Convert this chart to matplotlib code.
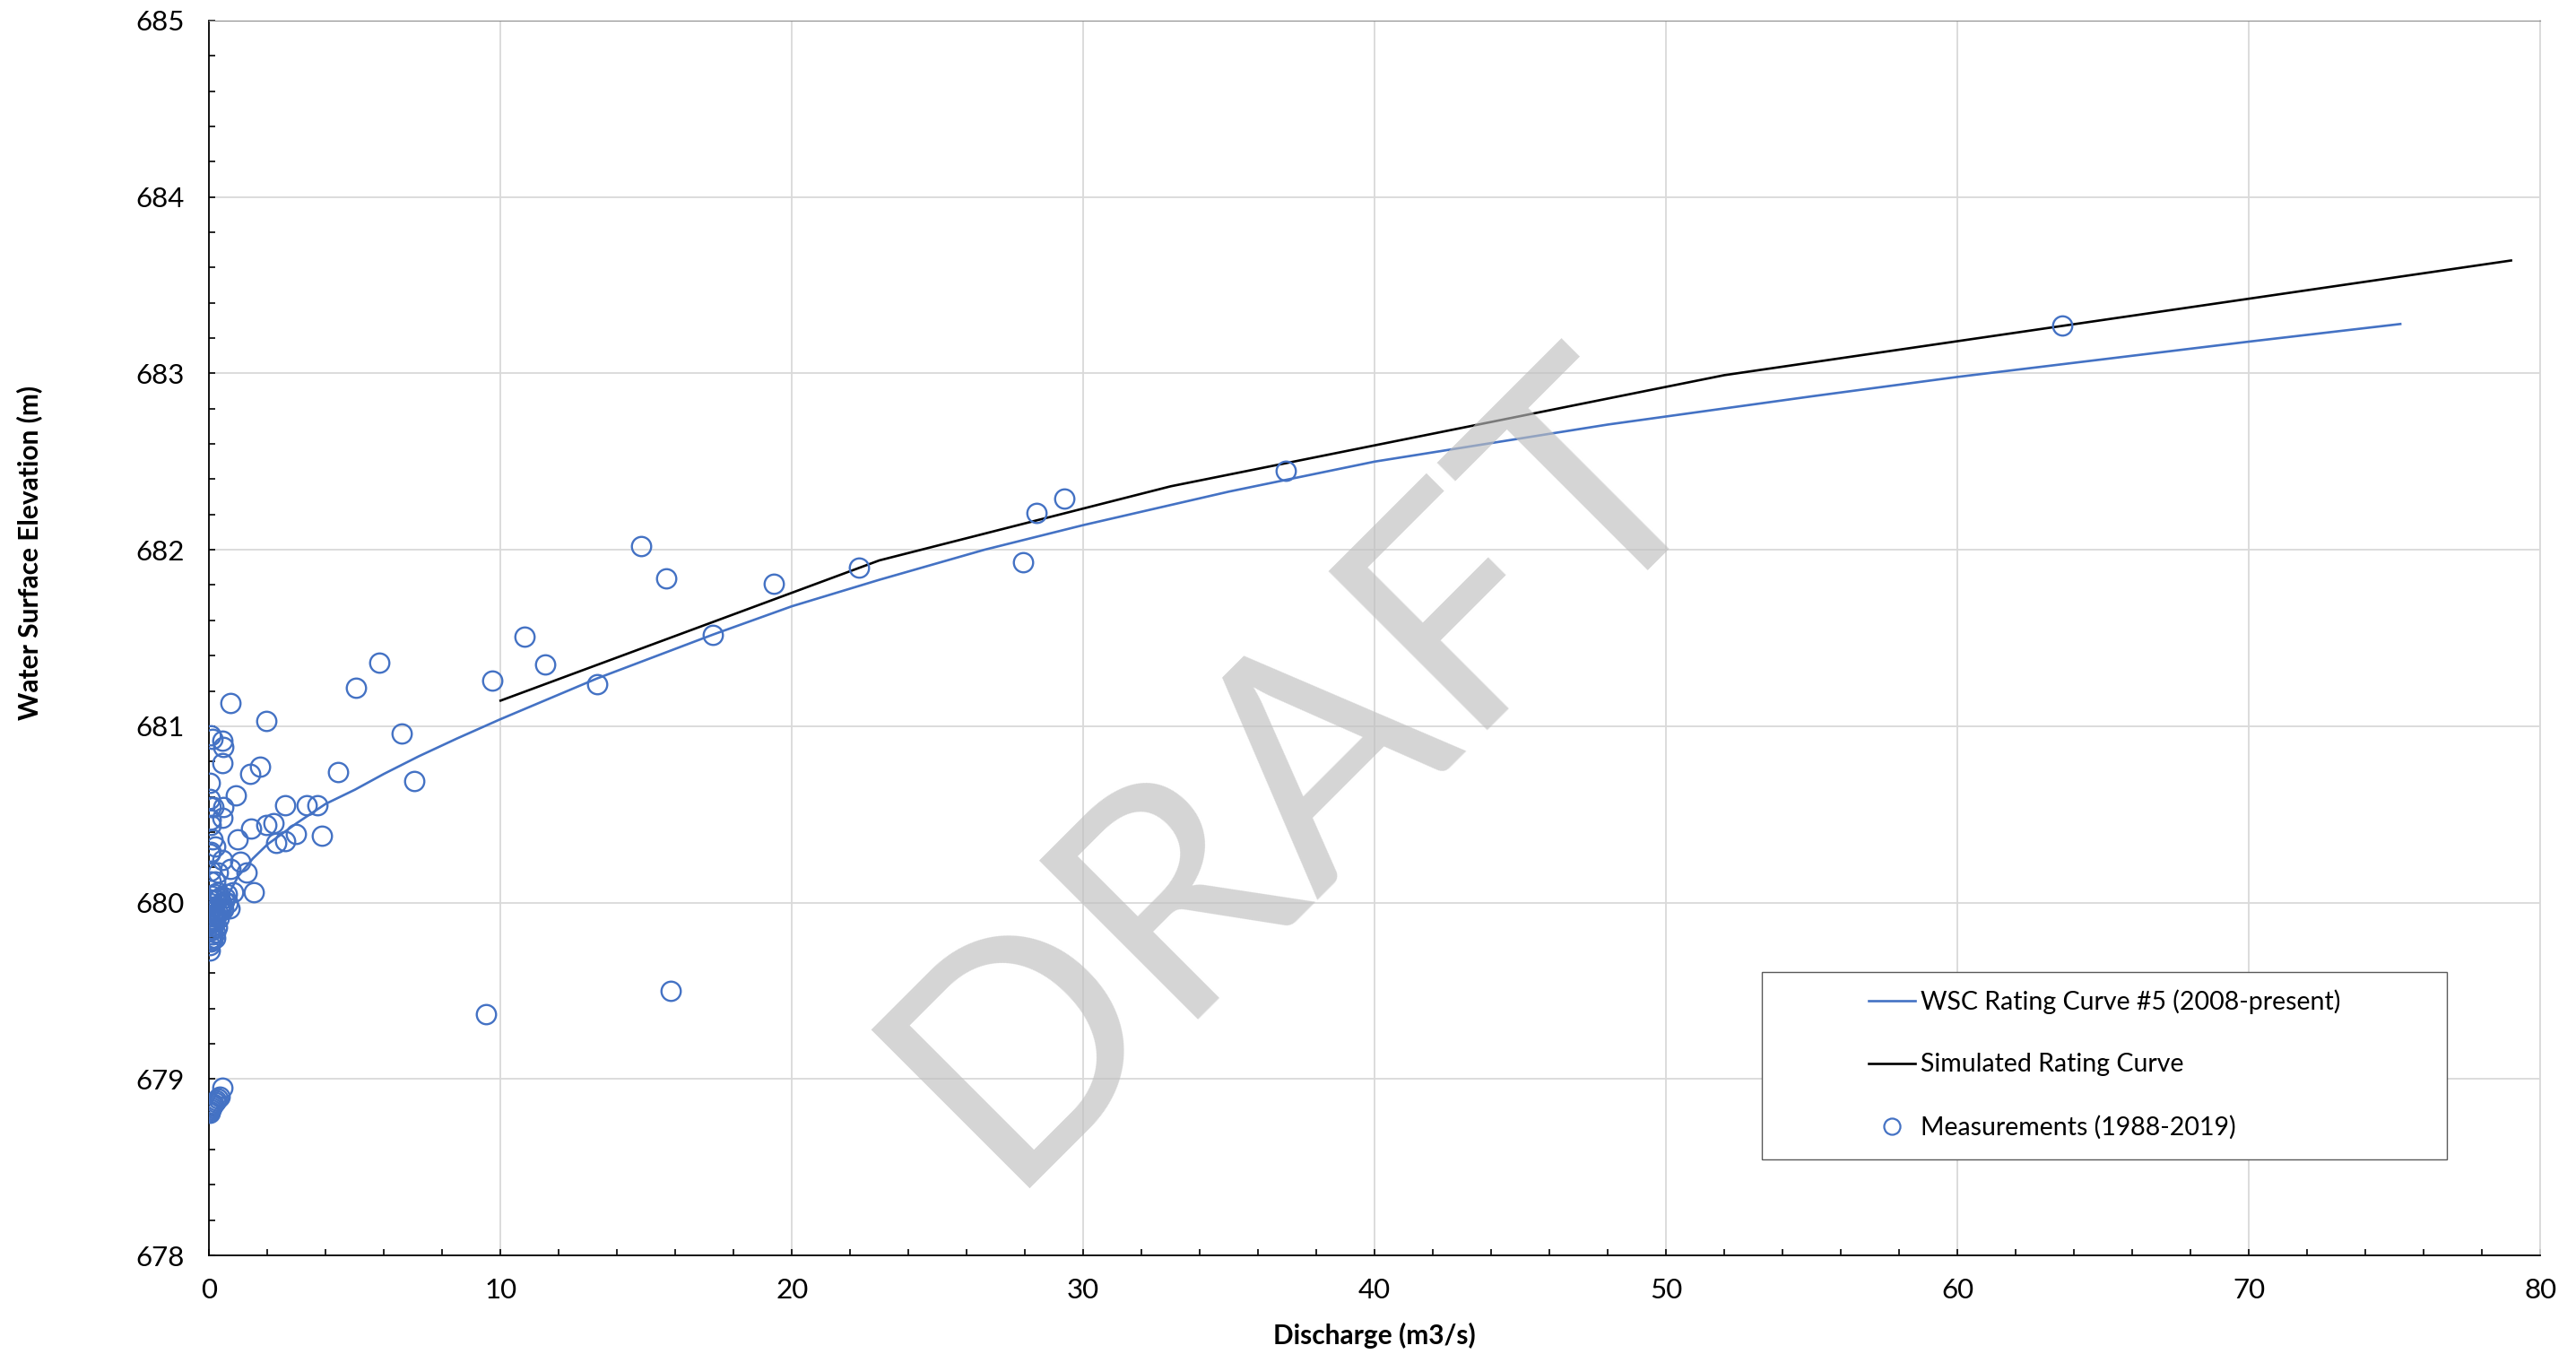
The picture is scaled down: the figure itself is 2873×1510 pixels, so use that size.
import numpy as np
import matplotlib
matplotlib.use("Agg")
import matplotlib.pyplot as plt
from matplotlib.lines import Line2D
from matplotlib.patches import Rectangle
from matplotlib.ticker import MultipleLocator

plt.rcParams['font.family'] = ['Lato', 'DejaVu Sans']

# --- WSC rating curve #5 ---
wsc_q = [0.45, 0.7, 1.0, 1.5, 2.0, 3.0, 4.0, 5.0, 6.0, 7.2, 8.5, 10.0, 13.3,
         17.3, 20.0, 23.0, 26.6, 30.0, 35.0, 40.0, 48.0, 55.0, 60.0, 65.0,
         70.0, 75.2]
wsc_h = [679.98, 680.06, 680.15, 680.25, 680.33, 680.45, 680.56, 680.64,
         680.73, 680.83, 680.93, 681.04, 681.27, 681.52, 681.68, 681.83,
         682.00, 682.14, 682.33, 682.50, 682.71, 682.87, 682.98, 683.08,
         683.18, 683.28]

# --- simulated rating curve ---
sim_q = [10.0, 23.0, 33.0, 52.0, 79.0]
sim_h = [681.145, 681.94, 682.36, 682.99, 683.64]

# --- measurements (1988-2019) ---
meas_q = [0.72, 1.97, 0.05, 0.10, 0.46, 0.49, 0.46, 1.42, 1.74, 4.41, 6.60,
          7.03, 0.03, 0.92, 0.03, 0.05, 0.15, 0.49, 0.46, 0.05, 0.05, 2.60,
          3.36, 3.72, 1.44, 1.97, 2.20, 0.10, 0.97, 0.21, 0.05, 0.02, 2.31,
          2.62, 2.97, 3.88, 0.46, 1.08, 0.05, 0.72, 1.28, 0.31, 0.05, 0.20,
          0.82, 1.54, 5.04, 5.85, 9.72, 9.49, 10.81, 11.52, 13.30, 14.81,
          15.70, 15.85, 17.27, 19.39, 22.29, 27.93, 28.39, 29.34, 36.96,
          63.60,
          # dense low-flow cluster
          0.02, 0.03, 0.05, 0.08, 0.10, 0.04, 0.12, 0.15, 0.06, 0.18, 0.20,
          0.10, 0.25, 0.30, 0.05, 0.35, 0.40, 0.15, 0.45, 0.02, 0.50, 0.25,
          0.55, 0.08, 0.60, 0.30, 0.12, 0.22, 0.28, 0.32, 0.38, 0.42, 0.07,
          0.01, 0.18, 0.03, 0.48, 0.35, 0.20, 0.14, 0.70, 0.65,
          # lowest group
          0.02, 0.03, 0.05, 0.08, 0.10, 0.15, 0.20, 0.25, 0.30, 0.35, 0.44]
meas_h = [681.13, 681.03, 680.95, 680.93, 680.92, 680.88, 680.79, 680.73,
          680.77, 680.74, 680.96, 680.69, 680.68, 680.61, 680.59, 680.54,
          680.54, 680.54, 680.48, 680.47, 680.44, 680.55, 680.55, 680.55,
          680.42, 680.44, 680.45, 680.36, 680.36, 680.32, 680.29, 680.28,
          680.34, 680.35, 680.39, 680.38, 680.24, 680.23, 680.18, 680.19,
          680.17, 680.17, 680.12, 680.12, 680.06, 680.06, 681.22, 681.36,
          681.26, 679.37, 681.51, 681.35, 681.24, 682.02, 681.84, 679.50,
          681.52, 681.81, 681.90, 681.93, 682.21, 682.29, 682.45, 683.27,
          679.73, 679.76, 679.78, 679.80, 679.82, 679.84, 679.85, 679.87,
          679.88, 679.89, 679.90, 679.92, 679.93, 679.94, 679.95, 679.96,
          679.97, 679.98, 679.99, 680.00, 680.01, 680.02, 680.03, 680.04,
          680.05, 680.06, 679.79, 679.83, 679.86, 679.91, 679.95, 680.00,
          679.97, 680.02, 680.05, 679.90, 679.96, 680.03, 679.80, 679.95,
          679.97, 680.00,
          678.81, 678.82, 678.83, 678.84, 678.85, 678.86, 678.87, 678.88,
          678.89, 678.90, 678.95]

BLUE = '#4472C4'

fig = plt.figure(figsize=(28.73, 15.10), dpi=100)
ax = fig.add_axes([0.0812, 0.0728, 0.9049, 0.912])

ax.plot(wsc_q, wsc_h, color=BLUE, lw=1.9, zorder=3)
ax.plot(sim_q, sim_h, color='black', lw=1.9, zorder=3)
ax.plot(meas_q, meas_h, ls='none', marker='o', ms=15.5, mfc='none',
        mec=BLUE, mew=1.7, zorder=4)

# --- axes formatting ---
ax.set_xlim(0, 80)
ax.set_ylim(678, 685)
ax.xaxis.set_major_locator(MultipleLocator(10))
ax.xaxis.set_minor_locator(MultipleLocator(2))
ax.yaxis.set_major_locator(MultipleLocator(1))
ax.yaxis.set_minor_locator(MultipleLocator(0.2))
ax.grid(True, which='major', color='#d9d9d9', lw=1.3, zorder=0)
ax.set_axisbelow(True)

ax.tick_params(which='both', direction='in', length=5, width=1.2, color='black')
ax.tick_params(axis='x', which='major', labelsize=22.5, pad=18)
ax.tick_params(axis='y', which='major', labelsize=22.5, pad=20)

for side in ['left', 'bottom']:
    ax.spines[side].set_color('black')
    ax.spines[side].set_linewidth(1.3)
ax.spines['top'].set_color('#8c8c8c')
ax.spines['right'].set_color('#d9d9d9')
ax.spines['right'].set_linewidth(1.3)

ax.set_xlabel('Discharge (m3/s)', fontsize=21.5, fontweight='bold')
ax.xaxis.set_label_coords(0.5, -0.054)
ax.xaxis.label.set_va('top')
ax.set_ylabel('Water Surface Elevation (m)', fontsize=21.5, fontweight='bold')
ax.yaxis.set_label_coords(-0.0717, 0.569)

# --- DRAFT watermark ---
ax.text(37.3, 680.76, 'DRAFT', fontsize=252, color='#bfbfbf', alpha=0.65,
        rotation=45, rotation_mode='anchor', ha='center', va='center',
        zorder=5)

# --- legend ---
ax.add_patch(Rectangle((0.666, 0.0777), 0.294, 0.152, transform=ax.transAxes,
                       facecolor='white', edgecolor='#595959', lw=1.0,
                       zorder=6))
handles = [Line2D([], [], color=BLUE, lw=1.9),
           Line2D([], [], color='black', lw=1.9),
           Line2D([], [], ls='none', marker='o', ms=13, mfc='none', mec=BLUE,
                  mew=1.6)]
labels = ['WSC Rating Curve #5 (2008-present)', 'Simulated Rating Curve',
          'Measurements (1988-2019)']
leg = ax.legend(handles, labels, loc='upper left',
                bbox_to_anchor=(0.7117, 0.2155), frameon=False, fontsize=20.5,
                handlelength=1.85, handletextpad=0.2, labelspacing=1.53,
                borderpad=0, borderaxespad=0)
leg.set_zorder(7)

fig.savefig('out.png', dpi=100)
